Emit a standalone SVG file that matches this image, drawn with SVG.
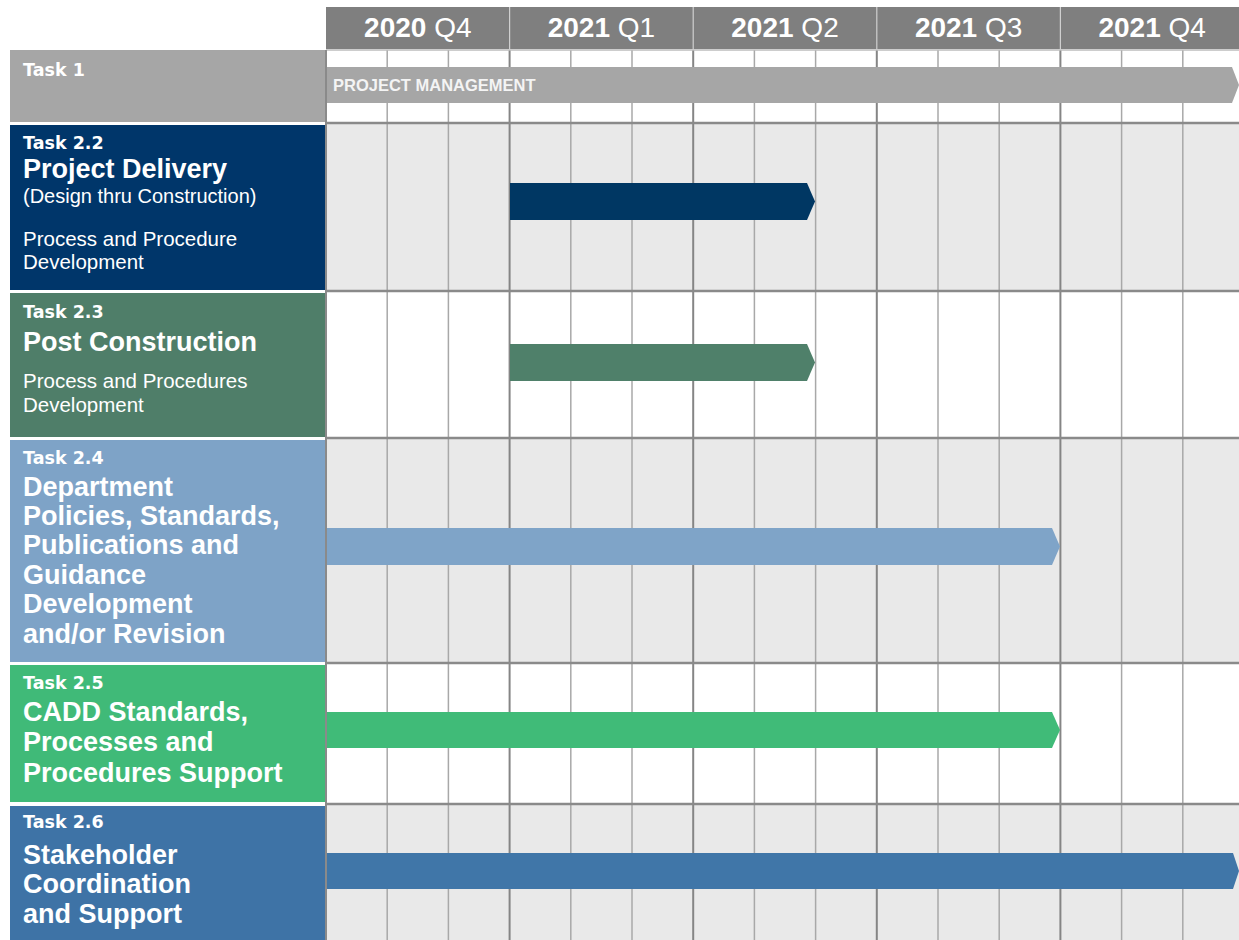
<svg xmlns="http://www.w3.org/2000/svg" width="1239" height="940" viewBox="0 0 1239 940">
<style>
.hd{font-family:"Liberation Sans",Arial,sans-serif;font-size:28px;fill:#ffffff;text-anchor:middle}
.b{font-weight:bold}
.tk{font-family:"DejaVu Sans",Verdana,sans-serif;font-weight:bold;font-size:17.5px;fill:#ffffff}
.ti{font-family:"Liberation Sans",Arial,sans-serif;font-weight:bold;font-size:27px;fill:#ffffff}
.sb{font-family:"Liberation Sans",Arial,sans-serif;font-size:20.5px;fill:#ffffff}
.pm{font-family:"Liberation Sans",Arial,sans-serif;font-weight:bold;font-size:16.5px;fill:#f4f4f4}
.vm{stroke:#a8a8a8;stroke-width:1.5}
.vq{stroke:#858585;stroke-width:2}
.hr{stroke:#8a8a8a;stroke-width:2.5}
</style>
<rect width="1239" height="940" fill="#ffffff"/>
<g id="grid">
<rect x="326" y="124" width="913" height="166" fill="#e9e9e9"/>
<rect x="326" y="439" width="913" height="223" fill="#e9e9e9"/>
<rect x="326" y="805" width="913" height="135" fill="#e9e9e9"/>
<g>
<line class="vm" x1="387.2" y1="50" x2="387.2" y2="940"/>
<line class="vm" x1="448.4" y1="50" x2="448.4" y2="940"/>
<line class="vq" x1="509.6" y1="50" x2="509.6" y2="940"/>
<line class="vm" x1="570.8" y1="50" x2="570.8" y2="940"/>
<line class="vm" x1="632" y1="50" x2="632" y2="940"/>
<line class="vq" x1="693.2" y1="50" x2="693.2" y2="940"/>
<line class="vm" x1="754.4" y1="50" x2="754.4" y2="940"/>
<line class="vm" x1="815.6" y1="50" x2="815.6" y2="940"/>
<line class="vq" x1="876.8" y1="50" x2="876.8" y2="940"/>
<line class="vm" x1="938" y1="50" x2="938" y2="940"/>
<line class="vm" x1="999.2" y1="50" x2="999.2" y2="940"/>
<line class="vq" x1="1060.4" y1="50" x2="1060.4" y2="940"/>
<line class="vm" x1="1121.6" y1="50" x2="1121.6" y2="940"/>
<line class="vm" x1="1182.8" y1="50" x2="1182.8" y2="940"/>
</g>
<line x1="326" y1="50" x2="1239" y2="50" stroke="#bdbdbd" stroke-width="1.5"/>
<line class="hr" x1="326" y1="123" x2="1239" y2="123"/>
<line class="hr" x1="326" y1="291" x2="1239" y2="291"/>
<line class="hr" x1="326" y1="438" x2="1239" y2="438"/>
<line class="hr" x1="326" y1="663" x2="1239" y2="663"/>
<line class="hr" x1="326" y1="804" x2="1239" y2="804"/>
<line x1="326" y1="50" x2="326" y2="940" stroke="#8a8a8a" stroke-width="2"/>
</g>
<g id="header">
<rect x="326" y="7" width="913" height="42" fill="#7f7f7f"/>
<line x1="509.6" y1="7" x2="509.6" y2="49" stroke="#d0d0d0" stroke-width="1.2"/>
<line x1="693.2" y1="7" x2="693.2" y2="49" stroke="#d0d0d0" stroke-width="1.2"/>
<line x1="876.8" y1="7" x2="876.8" y2="49" stroke="#d0d0d0" stroke-width="1.2"/>
<line x1="1060.4" y1="7" x2="1060.4" y2="49" stroke="#d0d0d0" stroke-width="1.2"/>
<text class="hd" x="417.8" y="37"><tspan class="b">2020</tspan> Q4</text>
<text class="hd" x="601.4" y="37"><tspan class="b">2021</tspan> Q1</text>
<text class="hd" x="785" y="37"><tspan class="b">2021</tspan> Q2</text>
<text class="hd" x="968.6" y="37"><tspan class="b">2021</tspan> Q3</text>
<text class="hd" x="1152.2" y="37"><tspan class="b">2021</tspan> Q4</text>
</g>
<g id="task1">
<rect x="10" y="50" width="315" height="72" fill="#a6a6a6"/>
<text class="tk" x="23" y="76">Task 1</text>
</g>
<g id="task22">
<rect x="10" y="125" width="315" height="165" fill="#00366a"/>
<text class="tk" x="23" y="149">Task 2.2</text>
<text class="ti" x="23" y="178">Project Delivery</text>
<text class="sb" x="23" y="203" style="font-size:20px">(Design thru Construction)</text>
<text class="sb" x="23" y="246">Process and Procedure</text>
<text class="sb" x="23" y="269">Development</text>
</g>
<g id="task23">
<rect x="10" y="293" width="315" height="144" fill="#4f7e69"/>
<text class="tk" x="23" y="318">Task 2.3</text>
<text class="ti" x="23" y="351">Post Construction</text>
<text class="sb" x="23" y="388">Process and Procedures</text>
<text class="sb" x="23" y="412">Development</text>
</g>
<g id="task24">
<rect x="10" y="440" width="315" height="222" fill="#7ea3c7"/>
<text class="tk" x="23" y="464">Task 2.4</text>
<text class="ti" x="23" y="496">Department</text>
<text class="ti" x="23" y="525">Policies, Standards,</text>
<text class="ti" x="23" y="554">Publications and</text>
<text class="ti" x="23" y="584">Guidance</text>
<text class="ti" x="23" y="613">Development</text>
<text class="ti" x="23" y="643">and/or Revision</text>
</g>
<g id="task25">
<rect x="10" y="665" width="315" height="137" fill="#40ba78"/>
<text class="tk" x="23" y="689">Task 2.5</text>
<text class="ti" x="23" y="721">CADD Standards,</text>
<text class="ti" x="23" y="751">Processes and</text>
<text class="ti" x="23" y="782">Procedures Support</text>
</g>
<g id="task26">
<rect x="10" y="806" width="315" height="134" fill="#3e73a6"/>
<text class="tk" x="23" y="828">Task 2.6</text>
<text class="ti" x="23" y="864">Stakeholder</text>
<text class="ti" x="23" y="893">Coordination</text>
<text class="ti" x="23" y="923">and Support</text>
</g>
<g id="connectors">
<polygon points="327,67 1232,67 1239,85 1232,103 327,103" fill="#a6a6a6"/>
<text class="pm" x="333" y="91">PROJECT MANAGEMENT</text>
<polygon points="510,183 807,183 815,201.5 807,220 510,220" fill="#003763"/>
<polygon points="510,344 807,344 815,362.5 807,381 510,381" fill="#4f806a"/>
<polygon points="327,528 1052,528 1060,546.5 1052,565 327,565" fill="#7fa4c8"/>
<polygon points="327,712 1052,712 1060,730 1052,748 327,748" fill="#40bb78"/>
<polygon points="327,853 1233,853 1239,871 1233,889 327,889" fill="#4076a8"/>
</g>
</svg>
